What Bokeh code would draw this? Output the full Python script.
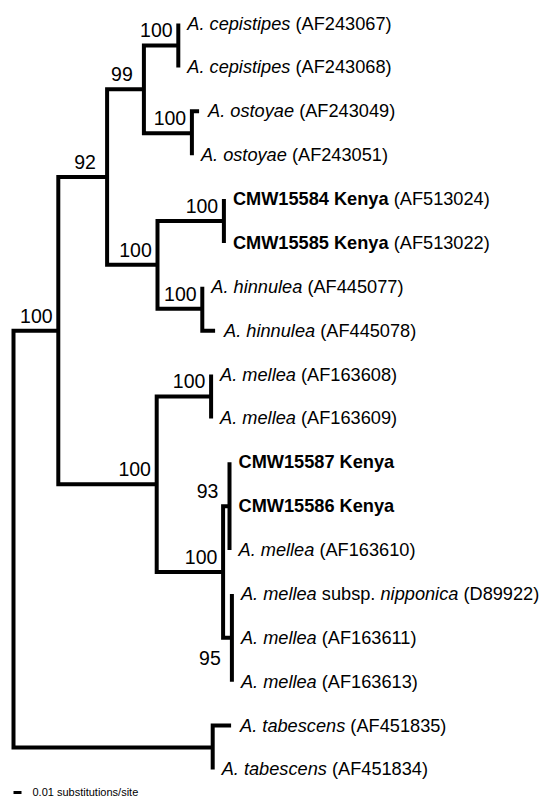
from bokeh.plotting import figure
from bokeh.models import Range1d, ColumnDataSource
from bokeh.core.properties import value
from bokeh.embed import file_html
from bokeh.resources import INLINE

# ---------------- data ----------------
TIP_TAXA = ["A. cepistipes", "A. cepistipes", "A. ostoyae", "A. ostoyae",
            "CMW15584 Kenya", "CMW15585 Kenya", "A. hinnulea", "A. hinnulea",
            "A. mellea", "A. mellea", "CMW15587 Kenya", "CMW15586 Kenya",
            "A. mellea", "A. mellea", "A. mellea", "A. mellea",
            "A. tabescens", "A. tabescens"]
TIP_SUBSP = ["", "", "", "", "", "", "", "", "", "", "", "", "",
             "nipponica", "", "", "", ""]
TIP_ACCESSION = ["AF243067", "AF243068", "AF243049", "AF243051",
                 "AF513024", "AF513022", "AF445077", "AF445078",
                 "AF163608", "AF163609", "", "",
                 "AF163610", "D89922", "AF163611", "AF163613",
                 "AF451835", "AF451834"]
TIP_BOLD = [False, False, False, False, True, True, False, False,
            False, False, True, True, False, False, False, False, False, False]
TIP_PARENT = ["D", "D", "E", "E", "G", "G", "H", "H", "J", "J",
              "L", "L", "L", "M", "M", "M", "N", "N"]
TIP_BRANCH = [0.0, 0.0, 0.009, 0.0, 0.0, 0.0, 0.0, 0.016, 0.0, 0.0,
              0.0, 0.0, 0.0, 0.0, 0.0, 0.0, 0.023, 0.0]

NODE_NAMES = ["A", "B", "C", "D", "E", "F", "G", "H", "I", "J", "K", "L", "M", "N"]
NODE_PARENT = ["root", "A", "B", "C", "C", "B", "F", "F", "A", "I", "I", "K", "K", "root"]
NODE_BRANCH = [0.056, 0.061, 0.046, 0.043, 0.060, 0.063, 0.083, 0.056,
               0.123, 0.068, 0.083, 0.008, 0.011, 0.249]
NODE_SUPPORT = ["100", "92", "99", "100", "100", "100", "100", "100",
                "100", "100", "100", "93", "95", ""]
SUPPORT_BELOW = ["M"]

SCALE_LENGTH = 0.01
SCALE_LABEL = "0.01 substitutions/site"

# ---------------- layout ----------------
W, H = 540, 797
PX_PER_UNIT = 800.0
ROOT_PX = 13.0
TOP_PX, TIP_GAP = 23.0, 43.88

LABEL_FONT = "Liberation Sans"
LABEL_SIZE = 18.2

REG = {' ': 278, '(': 333, ')': 333, '.': 278, '/': 278,
       'A': 667, 'C': 722, 'D': 722, 'F': 611, 'K': 667, 'M': 833, 'W': 944,
       'a': 556, 'b': 556, 'c': 500, 'd': 556, 'e': 556, 'h': 556, 'i': 222,
       'k': 500, 'l': 222, 'm': 833, 'n': 556, 'o': 556, 'p': 556, 'r': 333,
       's': 500, 't': 278, 'u': 556, 'y': 500}
BOLD = {' ': 278, 'C': 722, 'M': 833, 'W': 944, 'K': 722, 'e': 556, 'n': 611,
        'y': 556, 'a': 556}


def text_width(s, bold=False):
    table = BOLD if bold else REG
    tot = 0
    for ch in s:
        tot += 556 if ch.isdigit() else table.get(ch, 556)
    return tot / 1000.0 * LABEL_SIZE


# ---------------- tree geometry ----------------
node_x = {"root": 0.0}
for n, par, bl in zip(NODE_NAMES, NODE_PARENT, NODE_BRANCH):
    node_x[n] = node_x[par] + bl

children = {n: [] for n in ["root"] + NODE_NAMES}
for n, par in zip(NODE_NAMES, NODE_PARENT):
    children[par].append(("node", n))
tip_x = []
for i, (par, bl) in enumerate(zip(TIP_PARENT, TIP_BRANCH)):
    children[par].append(("tip", i))
    tip_x.append(node_x[par] + bl)

node_y = {}


def get_y(kind, key):
    if kind == "tip":
        return float(key)
    if key not in node_y:
        ys = [get_y(k, c) for k, c in children[key]]
        node_y[key] = (min(ys) + max(ys)) / 2.0
    return node_y[key]


def get_x(kind, key):
    return tip_x[key] if kind == "tip" else node_x[key]


get_y("node", "root")

line_xs, line_ys = [], []
for n in ["root"] + NODE_NAMES:
    ch = sorted(children[n], key=lambda c: get_y(*c))
    nx = node_x[n]
    first, last = ch[0], ch[-1]
    fx, fy = get_x(*first), get_y(*first)
    lx, ly = get_x(*last), get_y(*last)
    xs, ys = [], []
    if fx > nx + 1e-9:
        xs.append(fx); ys.append(fy)
    xs += [nx, nx]; ys += [fy, ly]
    if lx > nx + 1e-9:
        xs.append(lx); ys.append(ly)
    line_xs.append(xs); line_ys.append(ys)
    for c in ch[1:-1]:
        cx, cy = get_x(*c), get_y(*c)
        if cx > nx + 1e-9:
            line_xs.append([nx, cx]); line_ys.append([cy, cy])

# ---------------- figure ----------------
n_tips = len(TIP_TAXA)
y_top = -TOP_PX / TIP_GAP
y_bot = (H - TOP_PX) / TIP_GAP
p = figure(width=W, height=H, output_backend="svg", toolbar_location=None,
           x_range=Range1d(-ROOT_PX / PX_PER_UNIT, (W - ROOT_PX) / PX_PER_UNIT),
           y_range=Range1d(y_bot, y_top),
           min_border=0, background_fill_color="white", border_fill_color="white")
p.axis.visible = False
p.xgrid.visible = False
p.ygrid.visible = False
p.outline_line_color = None

p.multi_line(line_xs, line_ys, line_color="black", line_width=4,
             line_join="miter", line_cap="butt")

# tip labels built from segments
segs = {"italic": dict(x=[], y=[], t=[], o=[]),
        "normal": dict(x=[], y=[], t=[], o=[]),
        "bold": dict(x=[], y=[], t=[], o=[])}
GAP = 9.0
for i in range(n_tips):
    parts = []
    if TIP_BOLD[i]:
        parts.append((TIP_TAXA[i], "bold"))
    else:
        parts.append((TIP_TAXA[i], "italic"))
        if TIP_SUBSP[i]:
            parts.append((" subsp. ", "normal"))
            parts.append((TIP_SUBSP[i], "italic"))
    if TIP_ACCESSION[i]:
        parts.append((" (" + TIP_ACCESSION[i] + ")", "normal"))
    off = GAP
    for txt, style in parts:
        bold = style == "bold"
        lead = len(txt) - len(txt.lstrip(" "))
        off += text_width(" " * lead, bold)
        core = txt.strip(" ")
        d = segs[style]
        d["x"].append(tip_x[i]); d["y"].append(float(i)); d["t"].append(core); d["o"].append(off)
        off += text_width(txt.lstrip(" "), bold)

for style, d in segs.items():
    src = ColumnDataSource(dict(x=d["x"], y=d["y"], text=d["t"], xo=d["o"]))
    p.text(x="x", y="y", text="text", x_offset="xo", source=src,
           text_font=value(LABEL_FONT), text_font_size=f"{LABEL_SIZE}px",
           text_font_style=style, text_align="left", text_baseline="middle",
           text_color="black")

# support values
sx, sy, st, syo = [], [], [], []
for n, s in zip(NODE_NAMES, NODE_SUPPORT):
    if s:
        sx.append(node_x[n]); sy.append(node_y[n]); st.append(s)
        syo.append(20.0 if n in SUPPORT_BELOW else -15.0)
p.text(x="x", y="y", text="text", y_offset="yo",
       source=ColumnDataSource(dict(x=sx, y=sy, text=st, yo=syo)),
       x_offset=-22, text_font=value(LABEL_FONT), text_font_size="19.5px",
       text_align="center", text_baseline="middle", text_color="black")

# scale bar
bar_y = n_tips - 1 + 0.525
p.line([0.0, SCALE_LENGTH], [bar_y, bar_y], line_color="black", line_width=3)
p.text(x=[SCALE_LENGTH], y=[bar_y], text=[SCALE_LABEL], x_offset=11,
       text_font=value("Liberation Sans"), text_font_size="11px",
       text_align="left", text_baseline="middle", text_color="black")

open("out.html", "w").write(file_html(p, INLINE))
